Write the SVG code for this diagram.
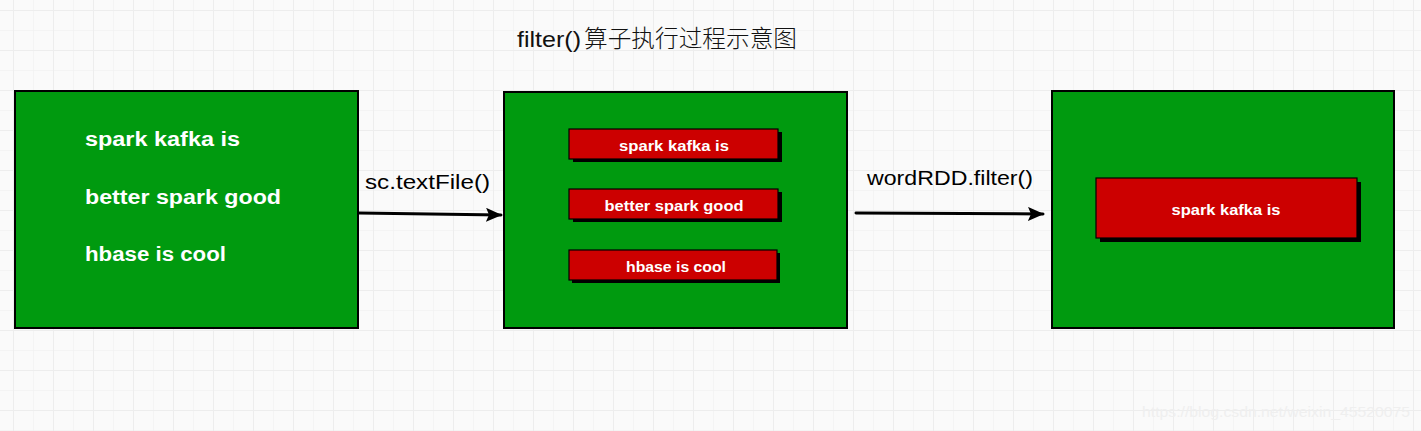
<svg xmlns="http://www.w3.org/2000/svg" width="1421" height="431" viewBox="0 0 1421 431">
  <defs>
    <pattern id="gMinor" x="13" y="10" width="20" height="20" patternUnits="userSpaceOnUse">
      <path d="M0 0V20M0 0H20" fill="none" stroke="#f2f2f2" stroke-width="1.5"/>
    </pattern>
    <pattern id="gMajor" x="13" y="10" width="40" height="40" patternUnits="userSpaceOnUse">
      <path d="M0 0V40M0 0H40" fill="none" stroke="#ededed" stroke-width="2"/>
    </pattern>
    <marker id="arrow" viewBox="0 0 16 14" refX="15" refY="7" markerWidth="16" markerHeight="14" markerUnits="userSpaceOnUse" orient="auto">
      <path d="M0 0L16 7L0 14L3 7Z" fill="#000"/>
    </marker>
    <style>
      .bg { fill: #fafafa; }
      .outer { fill: #009a0f; stroke: #000; stroke-width: 2; }
      .red { fill: #cc0000; stroke: #000; stroke-width: 1.2; }
      .shadow { fill: #000; }
      .wt { font-family: "Liberation Sans", Arial, sans-serif; font-weight: bold; fill: #fff; }
      .big { font-size: 20px; }
      .small { font-size: 15px; text-anchor: middle; }
      .lbl { font-family: "Liberation Sans", Arial, sans-serif; font-size: 21px; fill: #000; }
      .conn { stroke: #000; stroke-width: 3; fill: none; stroke-linecap: round; }
      .title { font-family: "Liberation Sans", "Noto Sans CJK SC", sans-serif; font-size: 22px; fill: #111; }
      .cjk { font-family: "Noto Sans CJK SC", sans-serif; font-weight: 300; font-size: 23.5px; }
      .wm { font-family: "Liberation Sans", Arial, sans-serif; font-size: 15px; fill: #efefef; }
    </style>
  </defs>

  <rect class="bg" x="0" y="0" width="1421" height="431"/>
  <rect x="0" y="0" width="1421" height="431" fill="url(#gMinor)"/>
  <rect x="0" y="0" width="1421" height="431" fill="url(#gMajor)"/>

  <text class="title" x="517" y="47"><tspan textLength="64" lengthAdjust="spacingAndGlyphs">filter()</tspan><tspan class="cjk" x="584" textLength="213" lengthAdjust="spacingAndGlyphs">算子执行过程示意图</tspan></text>

  <g id="node-source">
    <rect class="outer" x="15" y="91" width="343" height="237"/>
    <text class="wt big" x="85" y="146" textLength="155" lengthAdjust="spacingAndGlyphs">spark kafka is</text>
    <text class="wt big" x="85" y="204" textLength="196" lengthAdjust="spacingAndGlyphs">better spark good</text>
    <text class="wt big" x="85" y="261" textLength="141" lengthAdjust="spacingAndGlyphs">hbase is cool</text>
  </g>

  <g id="node-wordRDD">
    <rect class="outer" x="504" y="92" width="343" height="236"/>
    <rect class="shadow" x="573" y="132" width="209" height="30"/>
    <rect class="red" x="569" y="129" width="209" height="30"/>
    <text class="wt small" x="674" y="151" textLength="110" lengthAdjust="spacingAndGlyphs">spark kafka is</text>
    <rect class="shadow" x="573" y="192" width="209" height="30"/>
    <rect class="red" x="569" y="189" width="209" height="30"/>
    <text class="wt small" x="674" y="211" textLength="139" lengthAdjust="spacingAndGlyphs">better spark good</text>
    <rect class="shadow" x="572" y="253" width="208" height="30"/>
    <rect class="red" x="569" y="250" width="208" height="30"/>
    <text class="wt small" x="676" y="272" textLength="100" lengthAdjust="spacingAndGlyphs">hbase is cool</text>
  </g>

  <g id="node-filtered">
    <rect class="outer" x="1052" y="91" width="342" height="237"/>
    <rect class="shadow" x="1100" y="182" width="261" height="60"/>
    <rect class="red" x="1096" y="178" width="261" height="60"/>
    <text class="wt small" x="1226" y="215" textLength="109" lengthAdjust="spacingAndGlyphs">spark kafka is</text>
  </g>

  <g id="connectors">
    <line class="conn" x1="359" y1="213" x2="501" y2="215" marker-end="url(#arrow)"/>
    <text class="lbl" x="365" y="189" textLength="125" lengthAdjust="spacingAndGlyphs">sc.textFile()</text>
    <line class="conn" x1="856" y1="213" x2="1043" y2="214" marker-end="url(#arrow)"/>
    <text class="lbl" x="867" y="185" textLength="166" lengthAdjust="spacingAndGlyphs">wordRDD.filter()</text>
  </g>

  <text class="wm" x="1142" y="417" textLength="268" lengthAdjust="spacingAndGlyphs">https://blog.csdn.net/weixin_45520075</text>
</svg>
